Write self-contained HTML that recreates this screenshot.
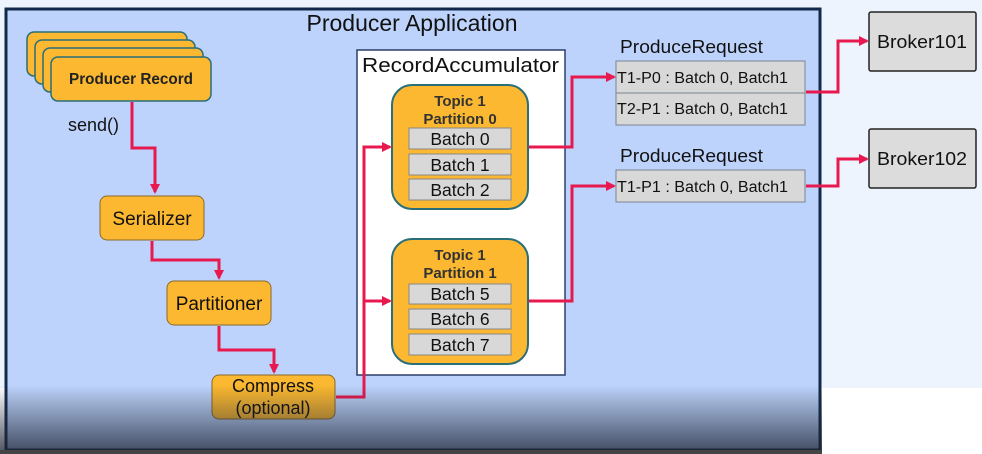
<!DOCTYPE html>
<html><head><meta charset="utf-8"><style>
html,body{margin:0;padding:0;background:#fff}
svg{display:block;font-family:"Liberation Sans",sans-serif}
</style></head><body>
<svg width="982" height="454" viewBox="0 0 982 454" xmlns="http://www.w3.org/2000/svg">
<defs>
<marker id="a" markerWidth="10" markerHeight="10" refX="8" refY="5" orient="auto" markerUnits="userSpaceOnUse"><path d="M0,0 L10,5 L0,10 z" fill="#e8194f"/></marker>
<linearGradient id="g" x1="0" y1="0" x2="0" y2="1"><stop offset="0" stop-color="#1e2535" stop-opacity="0"/><stop offset="1" stop-color="#1e2535" stop-opacity="0.8"/></linearGradient>
</defs>
<rect x="0" y="0" width="982" height="388" fill="#eef4fd"/>
<rect x="6" y="9" width="814" height="441" fill="#bdd3fb" stroke="#13294b" stroke-width="3"/>
<text x="412" y="31" font-size="23" text-anchor="middle" fill="#111">Producer Application</text>
<g stroke="#2a6e78" stroke-width="1.5" fill="#fbb830">
<rect x="27" y="32" width="160" height="44" rx="7"/>
<rect x="35" y="40" width="160" height="44" rx="7"/>
<rect x="43" y="48" width="160" height="44" rx="7"/>
<rect x="51" y="57" width="160" height="44" rx="7"/>
</g>
<text x="131" y="84" font-size="15.5" font-weight="bold" text-anchor="middle" fill="#222" textLength="124" lengthAdjust="spacingAndGlyphs">Producer Record</text>
<text x="68" y="131" font-size="18" fill="#111">send()</text>
<g stroke="#8a6a2a" stroke-width="1" fill="#fbb830">
<rect x="100" y="196" width="104" height="44" rx="7"/>
<rect x="167" y="281" width="104" height="44" rx="7"/>
<rect x="212" y="375" width="123" height="44" rx="7"/>
</g>
<g font-size="19" text-anchor="middle" fill="#111">
<text x="152" y="225">Serializer</text>
<text x="219" y="310">Partitioner</text>
<text x="273" y="392" font-size="18">Compress</text>
<text x="273" y="414" font-size="18">(optional)</text>
</g>
<rect x="357" y="50" width="208" height="325" fill="#fff" stroke="#2a3f6b" stroke-width="1.5"/>
<text x="362" y="72" font-size="20" fill="#111" textLength="197" lengthAdjust="spacingAndGlyphs">RecordAccumulator</text>
<g stroke="#2a6e78" stroke-width="2" fill="#fbb830">
<rect x="392" y="85" width="136" height="124" rx="20"/>
<rect x="392" y="239" width="136" height="125" rx="20"/>
</g>
<g font-size="15" font-weight="bold" text-anchor="middle" fill="#333">
<text x="460" y="106">Topic 1</text><text x="460" y="124">Partition 0</text>
<text x="460" y="260">Topic 1</text><text x="460" y="278">Partition 1</text>
</g>
<g fill="#d8d8d8" stroke="#888" stroke-width="1">
<rect x="409" y="128" width="102" height="21"/><rect x="409" y="154" width="102" height="21"/><rect x="409" y="179" width="102" height="21"/>
<rect x="409" y="284" width="102" height="20"/><rect x="409" y="309" width="102" height="20"/><rect x="409" y="334" width="102" height="21"/>
</g>
<g font-size="17.5" text-anchor="middle" fill="#111">
<text x="460" y="145">Batch 0</text><text x="460" y="171">Batch 1</text><text x="460" y="196">Batch 2</text>
<text x="460" y="300">Batch 5</text><text x="460" y="325">Batch 6</text><text x="460" y="351">Batch 7</text>
</g>
<g font-size="18" fill="#111"><text x="620" y="53" textLength="143" lengthAdjust="spacingAndGlyphs">ProduceRequest</text><text x="620" y="162" textLength="143" lengthAdjust="spacingAndGlyphs">ProduceRequest</text></g>
<g fill="#d8d8d8" stroke="#7a8290" stroke-width="1">
<rect x="616" y="61" width="189" height="32"/><rect x="616" y="93" width="189" height="32"/><rect x="616" y="170" width="189" height="32"/>
</g>
<g font-size="15.5" fill="#111"><text x="617" y="83" textLength="171" lengthAdjust="spacingAndGlyphs">T1-P0 : Batch 0, Batch1</text><text x="617" y="114" textLength="171" lengthAdjust="spacingAndGlyphs">T2-P1 : Batch 0, Batch1</text><text x="617" y="192" textLength="171" lengthAdjust="spacingAndGlyphs">T1-P1 : Batch 0, Batch1</text></g>
<g fill="#dcdcdc" stroke="#222" stroke-width="1.5">
<rect x="869" y="12" width="107" height="59" rx="2"/><rect x="869" y="129" width="107" height="59" rx="2"/>
</g>
<g font-size="18.5" text-anchor="middle" fill="#111"><text x="922" y="48" textLength="90" lengthAdjust="spacingAndGlyphs">Broker101</text><text x="922" y="165" textLength="90" lengthAdjust="spacingAndGlyphs">Broker102</text></g>
<g fill="none" stroke="#e8194f" stroke-width="3" marker-end="url(#a)">
<path d="M132,102 V148 H155 V192"/>
<path d="M152,241 V260 H219 V278"/>
<path d="M219,326 V350 H274 V372"/>
<path d="M336,397 H364 V147 H390"/>
<path d="M364,301 H390"/>
<path d="M529,147 H572 V77 H614"/>
<path d="M529,301 H572 V186 H614"/>
<path d="M806,92 H838 V41 H867"/>
<path d="M806,186 H838 V159 H867"/>
</g>
<rect x="0" y="385" width="822" height="69" fill="url(#g)"/>
<rect x="0" y="450" width="822" height="4" fill="#444"/>
</svg>
</body></html>
